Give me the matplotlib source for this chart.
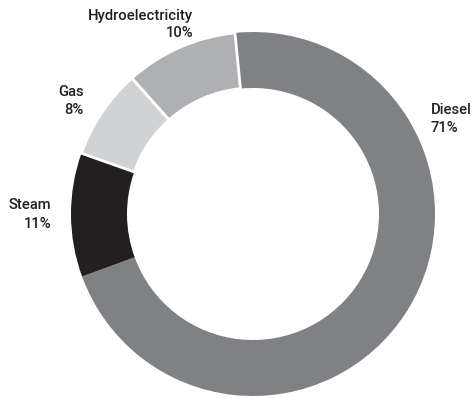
import matplotlib.pyplot as plt

labels = ['Diesel', 'Steam', 'Gas', 'Hydroelectricity']
shares = [71, 11, 8, 10]
colors = ['#808184', '#231f20', '#d1d2d4', '#afb0b3']

plt.rcParams['font.family'] = ['Roboto', 'DejaVu Sans']

W, H = 474, 398
fig = plt.figure(figsize=(W / 100, H / 100), dpi=100)
ax = fig.add_axes([0, 0, 1, 1])

cx, cy, r = 253, H - 214, 182
wedges, _ = ax.pie(shares, colors=colors, startangle=95.7, counterclock=False,
                   center=(cx, cy), radius=r, frame=True,
                   wedgeprops=dict(width=56, linewidth=0))
# white seams only around the two light slices
for w in wedges[2:]:
    w.set_edgecolor('white')
    w.set_linewidth(2)
ax.set_xlim(0, W)
ax.set_ylim(0, H)
ax.set_aspect('equal')
ax.axis('off')

txt = dict(fontsize=10.6, fontweight='medium', color='#231f20', va='center')
pos = {
    'Diesel': (431, 110, 128, 'left'),
    'Steam': (51, 205, 224, 'right'),
    'Gas': (84, 92, 110, 'right'),
    'Hydroelectricity': (193, 16, 33, 'right'),
}
for name, val in zip(labels, shares):
    x, y1, y2, ha = pos[name]
    ax.text(x, H - y1, name, ha=ha, **txt)
    ax.text(x, H - y2, f'{val}%', ha=ha, **txt)

fig.savefig('out.png', dpi=100)
